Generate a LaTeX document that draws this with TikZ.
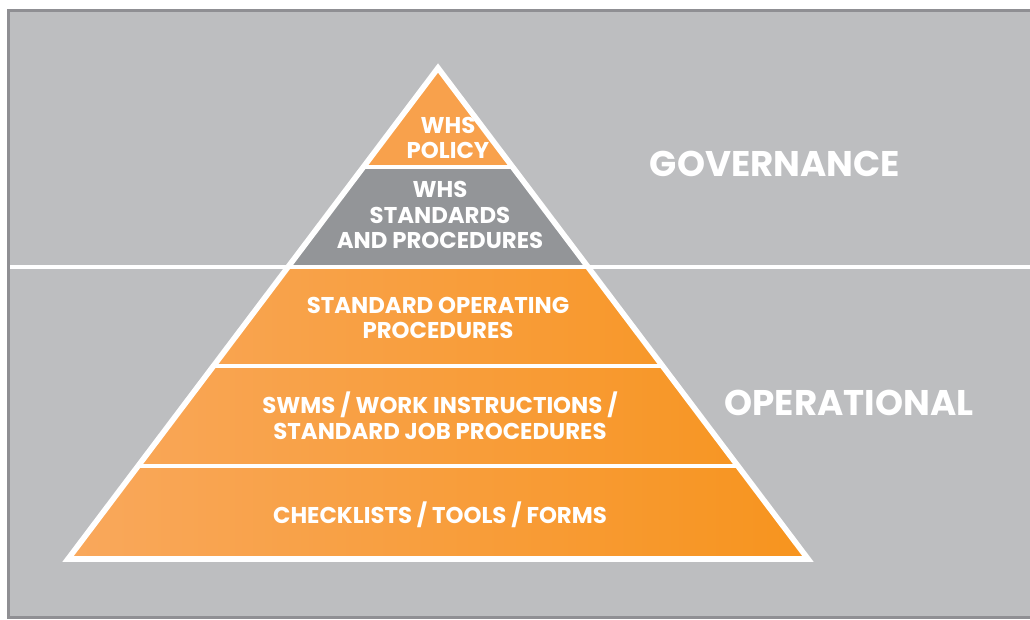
\documentclass[tikz,border=0pt]{standalone}
\usepackage{fontspec}
\setmainfont{Poppins}
\usetikzlibrary{calc}
\definecolor{panelgray}{HTML}{BDBEC0}
\definecolor{edgegray}{HTML}{8F8F93}
\definecolor{midgray}{HTML}{939598}
\definecolor{toporange}{HTML}{F8A14C}
\definecolor{orangelight}{HTML}{F9A85C}
\definecolor{orangedark}{HTML}{F7941E}
\begin{document}
\begin{tikzpicture}[x=0.02cm,y=-0.02cm,
    layertext/.style={text=white,align=center,font=\fontsize{13}{14.7}\selectfont\bfseries},
    sidetext/.style={text=white,font=\fontsize{20.3}{24}\selectfont\bfseries}]
    \useasboundingbox (0,0) rectangle (1030,619);
    % panel
    \fill[panelgray] (7,9) rectangle (1032,618);
    \draw[edgegray,line width=1.7pt] (1032,10.5) -- (8.5,10.5) -- (8.5,617.5) -- (1032,617.5);
    % pyramid
    \coordinate (apex) at (438,68);
    \coordinate (bl) at (68,559);
    \coordinate (br) at (808,559);
    \begin{scope}
        \clip (apex) -- (bl) -- (br) -- cycle;
        \fill[toporange] (68,60) rectangle (808,167);
        \fill[midgray] (68,167) rectangle (808,267);
        \shade[left color=orangelight,right color=orangedark] (68,267) rectangle (808,560);
    \end{scope}
    \draw[white,line width=3.2pt] (apex) -- (bl) -- (br) -- cycle;
    \draw[white,line width=2.8pt] ($(apex)!0.2016!(bl)$) -- ($(apex)!0.2016!(br)$);
    \draw[white,line width=2.8pt] ($(apex)!0.6069!(bl)$) -- ($(apex)!0.6069!(br)$);
    \draw[white,line width=2.8pt] ($(apex)!0.8106!(bl)$) -- ($(apex)!0.8106!(br)$);
    \coordinate (divleft) at (10,267);
    \coordinate (divright) at (1032,267);
    \draw[white,line width=2.8pt] (divleft) -- (divright);
    % labels
    \node[layertext] (policy) at (448,138) {WHS\\POLICY};
    \node[layertext] (standards) at (440,215) {WHS\\STANDARDS\\AND PROCEDURES};
    \node[layertext] (sop) at (438,318) {STANDARD OPERATING\\PROCEDURES};
    \node[layertext] (swms) at (440,416) {SWMS / WORK INSTRUCTIONS /\\STANDARD JOB PROCEDURES};
    \node[layertext] (forms) at (440,515) {CHECKLISTS / TOOLS / FORMS};
    \node[sidetext] (governance) at (775,164) {GOVERNANCE};
    \node[sidetext] (operational) at (849,403) {OPERATIONAL};
\end{tikzpicture}
\end{document}
